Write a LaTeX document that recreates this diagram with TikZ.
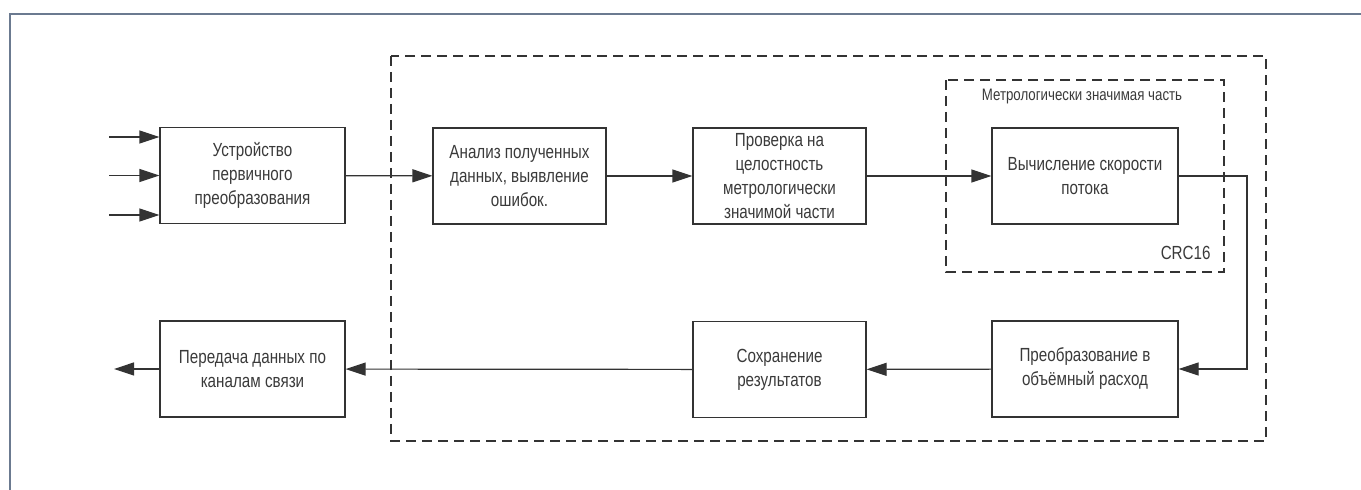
\documentclass[tikz,border=0pt]{standalone}
\usepackage{fontspec}
\setmainfont[FakeStretch=0.8]{Liberation Sans}
\usetikzlibrary{arrows.meta,positioning}
\definecolor{flowink}{HTML}{333333}
\definecolor{flowtext}{HTML}{3A3A3A}
\definecolor{flowframe}{HTML}{6B7A90}
\tikzset{
  fblock/.style={draw=flowink, line width=0.6pt, align=center,
                 font=\fontsize{9.5}{12}\selectfont, text=flowtext,
                 minimum height=48pt, inner sep=2pt},
  farrow/.style={-{Triangle[length=10pt,width=6.5pt]}, draw=flowink,
                 line width=0.6pt},
  fline/.style={draw=flowink, line width=0.6pt},
  fgroup/.style={draw=flowink, line width=0.6pt, dash pattern=on 5pt off 3pt},
  flabel/.style={font=\fontsize{8.3}{10}\selectfont, text=flowtext, inner sep=1pt},
}
\begin{document}
\begin{tikzpicture}[x=0.5pt, y=0.5pt]
  \useasboundingbox (0,0) rectangle (1361,-490);
  % --- frame of the sheet ---
  \draw[flowframe, line width=1pt] (10,-490) -- (10,-14) -- (1361,-14);

  % --- groups ---
  \draw[fgroup] (391,-56) rectangle (1266,-441);
  \draw[fgroup] (946,-80) rectangle (1224,-272);
  \node[flabel] (metlab) at (1082,-97) {Метрологически значимая часть};
  \node[flabel, font=\fontsize{9.5}{12}\selectfont, anchor=east] (crc) at (1213,-253) {CRC16};

  % --- top row ---
  \node[fblock, minimum width=92.5pt] (dev)   at ( 252.5,-175.5) {Устройство\\первичного\\преобразования};
  \node[fblock, minimum width=86.5pt] (anal)  at ( 519.5,-176)   {Анализ полученных\\данных, выявление\\ошибок.};
  \node[fblock, minimum width=86.5pt] (check) at ( 779.5,-176)   {Проверка на\\целостность\\метрологически\\значимой части};
  \node[fblock, minimum width=93pt]   (calc)  at (1085,-176)     {Вычисление скорости\\потока};

  % --- bottom row ---
  \node[fblock, minimum width=93pt]   (conv)  at (1085,-369)     {Преобразование в\\объёмный расход};
  \node[fblock, minimum width=86.5pt] (save)  at ( 779.5,-369.5) {Сохранение\\результатов};
  \node[fblock, minimum width=92.5pt] (send)  at ( 252.5,-369)   {Передача данных по\\каналам связи};

  \coordinate (in1) at (109,-137);
  \coordinate (in2) at (109,-175.5);
  \coordinate (in3) at (109,-215);
  \coordinate (turn) at (1247,-176);
  \coordinate (out) at (114,-369);

  \draw[farrow] (in1) -- (in1 -| dev.west);
  \draw[farrow] (in2) -- (dev.west);
  \draw[farrow] (in3) -- (in3 -| dev.west);
  \draw[farrow] (dev) -- (anal);
  \draw[farrow] (anal) -- (check);
  \draw[farrow] (check) -- (calc);
  \draw[farrow] (calc.east) -- (turn) |- (conv.east);
  \draw[farrow] (conv) -- (save);
  \draw[farrow] (save) -- (send);
  \draw[farrow] (send) -- (out);
\end{tikzpicture}
\end{document}
